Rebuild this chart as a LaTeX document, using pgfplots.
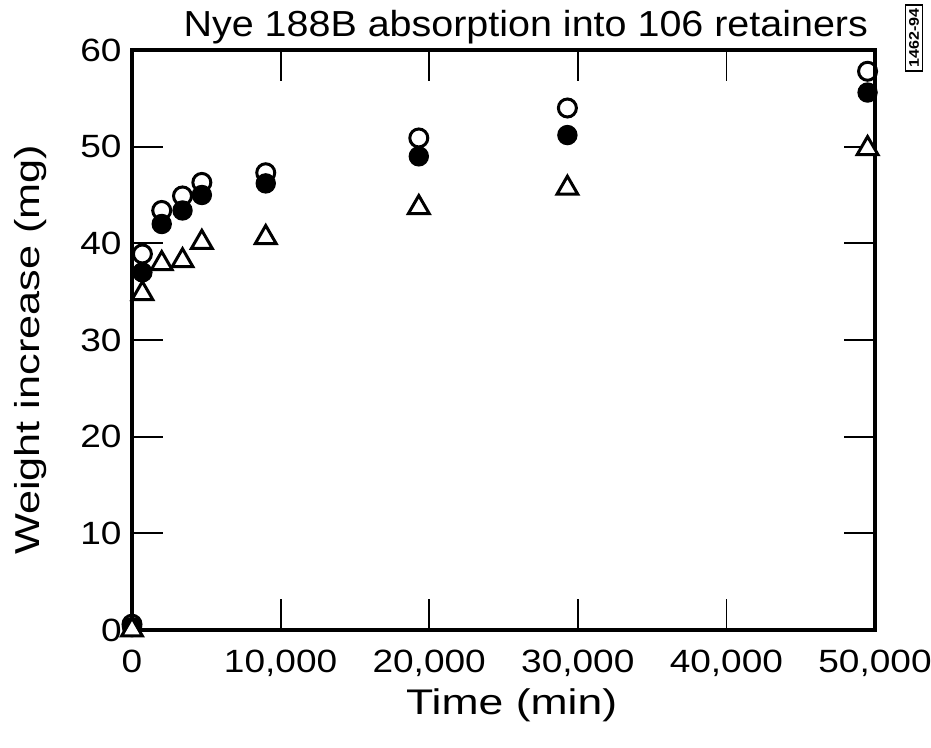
\documentclass[border=0pt]{standalone}
\usepackage{fontspec}
\setmainfont[FakeStretch=1.15]{Liberation Sans}
\newfontfamily\titlefont[FakeStretch=1.09]{Liberation Sans}
\newfontfamily\labelfont[FakeStretch=1.25]{Liberation Sans}
\usepackage{pgfplots}
\pgfplotsset{compat=1.18}
\begin{document}
\begin{tikzpicture}
\begin{axis}[
  name=ax,
  scale only axis,
  width=371.5pt, height=290pt,
  xmin=0, xmax=50000, ymin=0, ymax=60,
  xtick={0,10000,20000,30000,40000,50000},
  ytick={0,10,20,30,40,50,60},
  scaled x ticks=false,
  /pgf/number format/.cd, 1000 sep={,}, assume math mode=true, /pgfplots/.cd,
  tick align=inside,
  major tick length=15.5pt,
  tick style={line width=0.9pt, black},
  axis line style={line width=1.8pt},
  ticklabel style={font=\fontsize{16.1}{18}\selectfont},
  xticklabel style={anchor=base, yshift=-21.5pt, inner sep=0pt},
  yticklabel style={anchor=east, xshift=-5pt, inner sep=0pt},
  clip=false,
]
\addplot[only marks, mark=o, mark size=4.5pt, mark options={line width=1.5pt, black}] coordinates {
(0,0.6) (700,38.9) (2000,43.4) (3400,44.9) (4700,46.3) (9000,47.3) (19300,50.9) (29300,54.0) (49500,57.8)
};
\addplot[only marks, mark=*, mark size=4.8pt, mark options={line width=0.6pt, black, fill=black}] coordinates {
(0,0.3) (700,37.0) (2000,42.0) (3400,43.4) (4700,45.0) (9000,46.2) (19300,49.0) (29300,51.2) (49500,55.6)
};
\addplot[only marks, mark=triangle*, mark size=6pt, mark options={line width=1.5pt, draw=black, fill=white}] coordinates {
(0,0) (700,34.8) (2000,37.9) (3400,38.2) (4700,40.1) (9000,40.6) (19300,43.7) (29300,45.7) (49500,49.8)
};
\node[anchor=base, yshift=7pt, font=\titlefont\fontsize{18.1}{20}\selectfont] at (rel axis cs:0.530,1) {Nye 188B absorption into 106 retainers};
\node[anchor=base, yshift=-42.5pt, font=\labelfont\fontsize{17.8}{22}\selectfont] at (rel axis cs:0.511,0) {Time (min)};
\node[anchor=base, rotate=90, font=\labelfont\fontsize{17.3}{22}\selectfont] at ([xshift=-46pt]rel axis cs:0,0.483) {Weight increase (mg)};
\node[draw, line width=0.8pt, inner sep=1.8pt, rotate=90, font=\fontsize{7}{8}\selectfont\bfseries] at (rel axis cs:1.0525,1.0207) {1462-94};
\end{axis}
\pgfresetboundingbox
\path[use as bounding box] ([shift={(-66pt,-59pt)}]ax.south west) rectangle ([shift={(28pt,25pt)}]ax.north east);
\end{tikzpicture}
\end{document}
